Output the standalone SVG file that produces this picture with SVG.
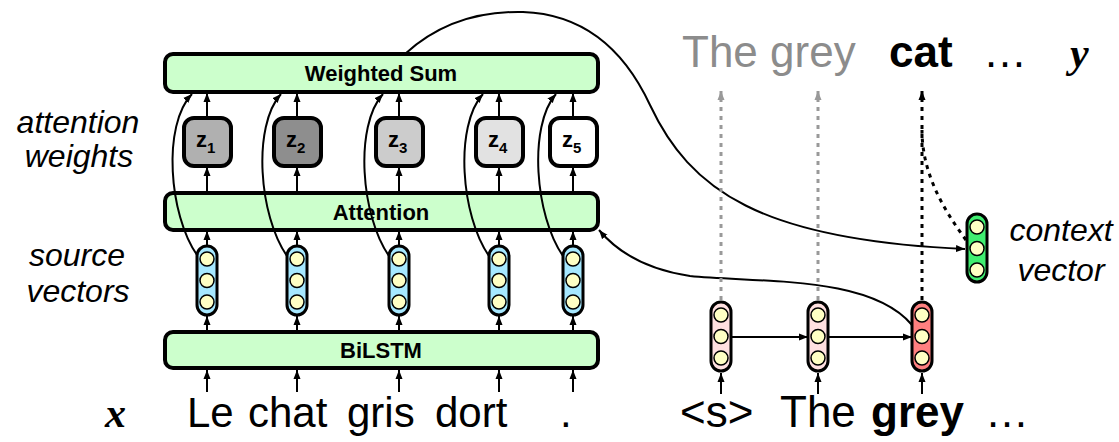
<svg xmlns="http://www.w3.org/2000/svg" width="1119" height="442" viewBox="0 0 1119 442">
  <defs>
    <style>
      .box{fill:#ccffcc;stroke:#000;stroke-width:4}
      .lbl{font-family:"Liberation Sans",Arial,sans-serif;font-weight:bold;font-size:22px;text-anchor:middle}
      .wt{stroke:#000;stroke-width:4}
      .zt{font-family:"Liberation Sans",Arial,sans-serif;font-weight:bold;font-size:22px}
      .sub{font-size:15px}
      .vec{stroke:#000;stroke-width:3}
      .src{fill:#a6e8ff}
      .dec{fill:#ffe0e0}
      .cur{fill:#ff8080}
      .ctx{fill:#40ee70}
      .dot{fill:#ffffc4;stroke:#000;stroke-width:1.5}
      .ln{fill:none;stroke:#000;stroke-width:2;marker-end:url(#ah)}
      .dash{fill:none;stroke:#000;stroke-width:3;stroke-dasharray:4 5}
      .gdash{fill:none;stroke:#999;stroke-width:3;stroke-dasharray:4 5}
      .side{font-family:"Liberation Sans",Arial,sans-serif;font-style:italic;font-size:32px;text-anchor:middle}
      .word{font-family:"Liberation Sans",Arial,sans-serif;font-size:42px}
      .wr{font-family:"Liberation Sans",Arial,sans-serif;font-size:44px}
      .var{font-family:"Liberation Serif","Times New Roman",serif;font-style:italic;font-weight:bold;font-size:42px}
    </style>
    <marker id="ah" markerUnits="userSpaceOnUse" markerWidth="10" markerHeight="8" refX="9" refY="4" orient="auto">
      <path d="M0,0.5 L9,4 L0,7.5z" fill="#000"/>
    </marker>
    <marker id="ahg" markerUnits="userSpaceOnUse" markerWidth="10" markerHeight="8" refX="9" refY="4" orient="auto">
      <path d="M0,0.5 L9,4 L0,7.5z" fill="#999"/>
    </marker>
    <g id="v3">
      <circle class="dot" cx="0" cy="13" r="7"/>
      <circle class="dot" cx="0" cy="34.5" r="7"/>
      <circle class="dot" cx="0" cy="56" r="7"/>
    </g>
  </defs>

  <!-- side labels -->
  <g id="labels">
    <text class="side" x="78" y="133">attention</text>
    <text class="side" x="79" y="167">weights</text>
    <text class="side" x="77" y="266">source</text>
    <text class="side" x="78" y="302">vectors</text>
    <text class="side" x="1061" y="241">context</text>
    <text class="side" x="1061" y="281">vector</text>
  </g>

  <!-- encoder layers -->
  <g id="weighted-sum">
    <rect class="box" x="165" y="54" width="433" height="38" rx="8"/>
    <text class="lbl" x="381" y="81">Weighted Sum</text>
  </g>
  <g id="attention">
    <rect class="box" x="165" y="193" width="433" height="37" rx="8"/>
    <text class="lbl" x="381" y="220">Attention</text>
  </g>
  <g id="bilstm">
    <rect class="box" x="165" y="332" width="433" height="36" rx="8"/>
    <text class="lbl" x="381" y="358">BiLSTM</text>
  </g>

  <!-- attention weights -->
  <g id="z1"><rect class="wt" x="184" y="118" width="47" height="48" rx="10" fill="#b0b0b0"/><text class="zt" x="196" y="147">z<tspan class="sub" dy="6">1</tspan></text></g>
  <g id="z2"><rect class="wt" x="274" y="118" width="47" height="48" rx="10" fill="#8e8e8e"/><text class="zt" x="286" y="147">z<tspan class="sub" dy="6">2</tspan></text></g>
  <g id="z3"><rect class="wt" x="376" y="118" width="47" height="48" rx="10" fill="#cccccc"/><text class="zt" x="388" y="147">z<tspan class="sub" dy="6">3</tspan></text></g>
  <g id="z4"><rect class="wt" x="476" y="118" width="47" height="48" rx="10" fill="#e2e2e2"/><text class="zt" x="488" y="147">z<tspan class="sub" dy="6">4</tspan></text></g>
  <g id="z5"><rect class="wt" x="550" y="118" width="47" height="48" rx="10" fill="#ffffff"/><text class="zt" x="562" y="147">z<tspan class="sub" dy="6">5</tspan></text></g>

  <!-- source vectors -->
  <g id="s1"><rect class="vec src" x="197" y="246" width="20" height="69" rx="10"/><use href="#v3" x="207" y="246"/></g>
  <g id="s2"><rect class="vec src" x="287" y="246" width="20" height="69" rx="10"/><use href="#v3" x="297" y="246"/></g>
  <g id="s3"><rect class="vec src" x="389" y="246" width="20" height="69" rx="10"/><use href="#v3" x="399" y="246"/></g>
  <g id="s4"><rect class="vec src" x="489" y="246" width="20" height="69" rx="10"/><use href="#v3" x="499" y="246"/></g>
  <g id="s5"><rect class="vec src" x="563" y="246" width="20" height="69" rx="10"/><use href="#v3" x="573" y="246"/></g>

  <!-- decoder states -->
  <g id="d1"><rect class="vec dec" x="711" y="302" width="20" height="69" rx="10"/><use href="#v3" x="721" y="302"/></g>
  <g id="d2"><rect class="vec dec" x="808" y="302" width="20" height="69" rx="10"/><use href="#v3" x="818" y="302"/></g>
  <g id="d3"><rect class="vec cur" x="912" y="302" width="20" height="69" rx="10"/><use href="#v3" x="922" y="302"/></g>

  <!-- context vector -->
  <g id="context"><rect class="vec ctx" x="967" y="214" width="20" height="68" rx="10"/><use href="#v3" x="977" y="214"/></g>

  <!-- words -->
  <g id="source-words">
    <text class="var" x="105" y="427">x</text>
    <text class="word" x="187" y="427">Le</text>
    <text class="word" x="248" y="427">chat</text>
    <text class="word" x="347" y="427">gris</text>
    <text class="word" x="435" y="427">dort</text>
    <text class="word" x="560" y="427">.</text>
  </g>
  <g id="target-in">
    <text class="wr" x="680" y="427">&lt;s&gt;</text>
    <text class="wr" x="780" y="427">The</text>
    <text class="wr" x="871" y="427" font-weight="bold">grey</text>
    <text class="wr" x="985" y="427">…</text>
  </g>
  <g id="target-out">
    <text class="wr" x="682" y="67" fill="#8c8c8c">The grey</text>
    <text class="wr" x="889" y="67" font-weight="bold">cat</text>
    <text class="wr" x="983" y="67">…</text>
    <text class="var" x="1070" y="67" font-size="44">y</text>
  </g>

  <!-- connectors -->
  <g id="connectors">
    <!-- inputs into BiLSTM -->
    <path class="ln" d="M207,392V370"/><path class="ln" d="M297,392V370"/><path class="ln" d="M399,392V370"/><path class="ln" d="M499,392V370"/><path class="ln" d="M573,392V370"/>
    <!-- BiLSTM to source vectors -->
    <path class="ln" d="M207,332V316"/><path class="ln" d="M297,332V316"/><path class="ln" d="M399,332V316"/><path class="ln" d="M499,332V316"/><path class="ln" d="M573,332V316"/>
    <!-- source vectors to attention -->
    <path class="ln" d="M207,246V231"/><path class="ln" d="M297,246V231"/><path class="ln" d="M399,246V231"/><path class="ln" d="M499,246V231"/><path class="ln" d="M573,246V231"/>
    <!-- attention to weights -->
    <path class="ln" d="M207,193V167"/><path class="ln" d="M297,193V167"/><path class="ln" d="M399,193V167"/><path class="ln" d="M499,193V167"/><path class="ln" d="M573,193V167"/>
    <!-- weights to weighted sum -->
    <path class="ln" d="M207,118V93"/><path class="ln" d="M297,118V93"/><path class="ln" d="M399,118V93"/><path class="ln" d="M499,118V93"/><path class="ln" d="M573,118V93"/>
    <!-- source vectors bypassing attention into weighted sum -->
    <path class="ln" d="M197,255C169,215 162,125 192,94"/>
    <path class="ln" d="M287,256C259,216 252,126 281,94"/>
    <path class="ln" d="M389,256C361,216 354,126 383,94"/>
    <path class="ln" d="M489,256C461,216 454,126 483,94"/>
    <path class="ln" d="M563,256C535,216 528,126 556,94"/>
    <!-- weighted sum to context vector -->
    <path class="ln" d="M405,54C440,22 480,11 523,12C580,14 622,45 650,105C690,190 760,240 965,249"/>
    <!-- decoder state queries attention -->
    <path class="ln" d="M912,325C870,275 760,283 690,276C650,270 620,255 599,230"/>
    <!-- decoder recurrence -->
    <path class="ln" d="M731,337H808"/><path class="ln" d="M828,337H912"/>
    <!-- decoder inputs -->
    <path class="ln" d="M721,394V373"/><path class="ln" d="M818,394V373"/><path class="ln" d="M922,394V373"/>
    <!-- outputs -->
    <path class="gdash" d="M721,300V100"/>
    <path class="gdash" d="M818,300V100"/>
    <path class="dash" d="M922,300V100"/>
    <path d="M721,98V91" stroke="#999" stroke-width="3" marker-end="url(#ahg)"/>
    <path d="M818,98V91" stroke="#999" stroke-width="3" marker-end="url(#ahg)"/>
    <path d="M922,98V91" stroke="#000" stroke-width="3" marker-end="url(#ah)"/>
    <path class="dash" d="M966,240C940,205 922,170 922,130"/>
  </g>
</svg>
